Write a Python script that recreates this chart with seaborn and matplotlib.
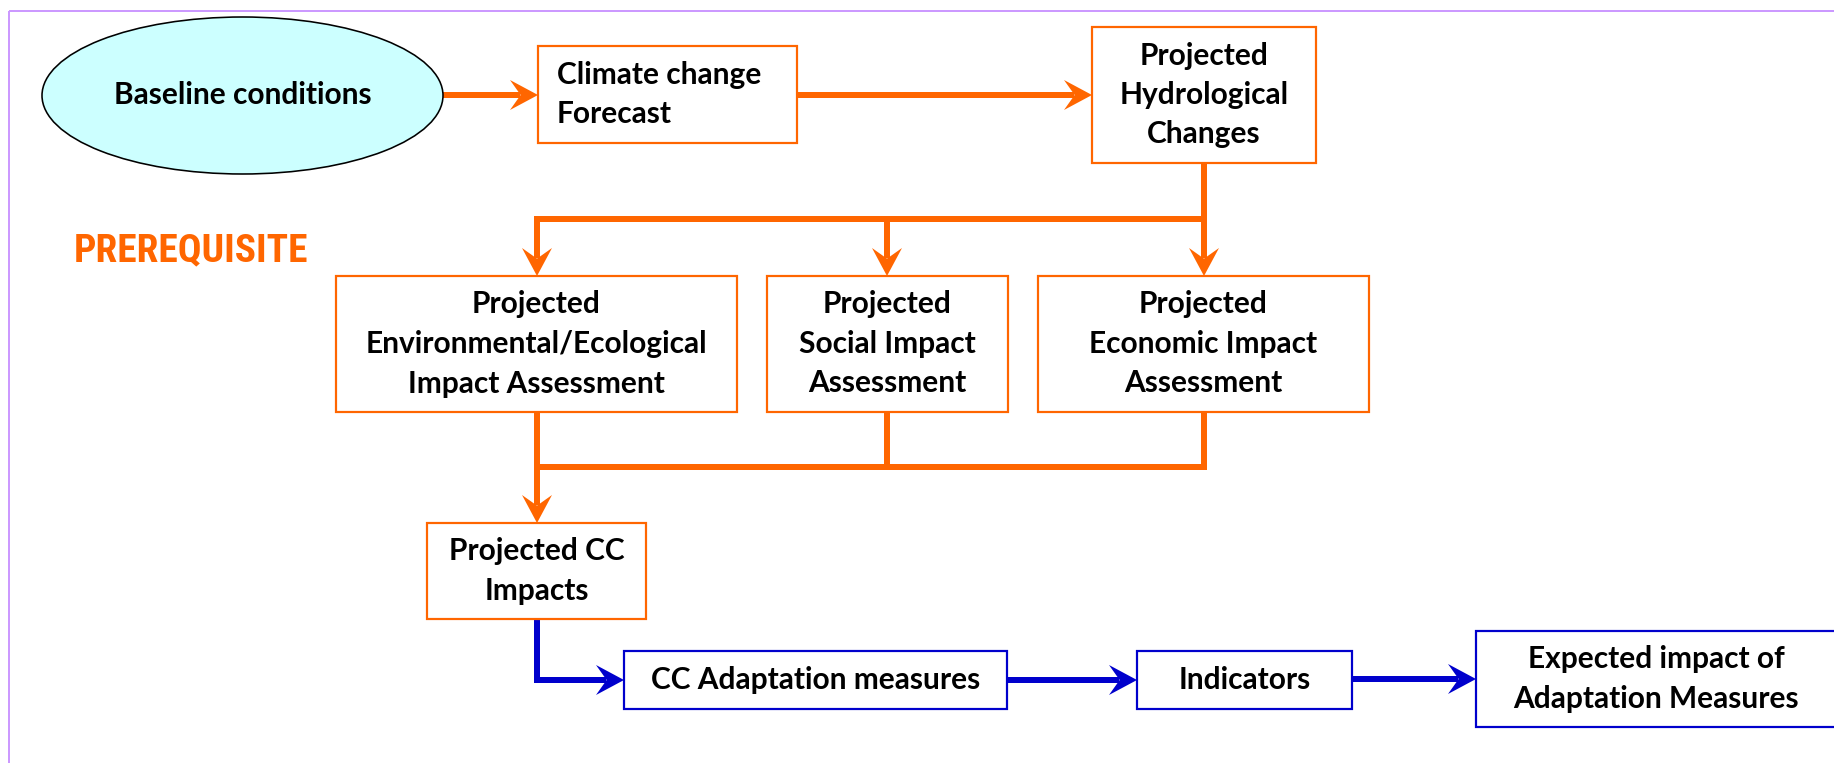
import numpy as np
import matplotlib
matplotlib.use("Agg")
import matplotlib.pyplot as plt
from matplotlib.patches import Rectangle, Ellipse
from matplotlib import font_manager
import seaborn as sns

sns.set_theme(style="white")
plt.rcParams['font.family'] = ['Lato', 'DejaVu Sans']

# ---- diagram data (pixel layout of the flowchart) ----
ORANGE = "#FF6600"
BLUE = "#0000CC"

node_names = ["baseline", "climate", "hydro", "env", "social", "econ",
              "ccimp", "adapt", "indic", "expect"]
node_labels = [
    ["Baseline conditions"],
    ["Climate change", "Forecast"],
    ["Projected", "Hydrological", "Changes"],
    ["Projected", "Environmental/Ecological", "Impact Assessment"],
    ["Projected", "Social Impact", "Assessment"],
    ["Projected", "Economic Impact", "Assessment"],
    ["Projected CC", "Impacts"],
    ["CC Adaptation measures"],
    ["Indicators"],
    ["Expected impact of", "Adaptation Measures"],
]
node_x0 = [42, 538, 1092, 336, 767, 1038, 427, 624, 1137, 1476]
node_x1 = [443, 797, 1316, 737, 1008, 1369, 646, 1007, 1352, 1836]
node_y0 = [17, 46, 27, 276, 276, 276, 523, 651, 651, 631]
node_y1 = [174, 143, 163, 412, 412, 412, 619, 709, 709, 727]
node_colors = ["black", ORANGE, ORANGE, ORANGE, ORANGE, ORANGE, ORANGE, BLUE, BLUE, BLUE]
node_align = ["center", "left", "center", "center", "center", "center",
              "center", "center", "center", "center"]

# connectors: polylines (x list, y list, colour, arrow at end?)
conn_x = [[443, 538], [797, 1092], [1204, 1204], [537, 1204], [537, 537], [887, 887],
          [537, 537], [887, 887], [1204, 1204], [537, 1204], [537, 537],
          [537, 537, 624], [1007, 1137], [1352, 1476]]
conn_y = [[95, 95], [95, 95], [163, 276], [219, 219], [219, 276], [219, 276],
          [412, 467], [412, 467], [412, 467], [467, 467], [467, 523],
          [619, 680, 680], [680, 680], [679, 679]]
conn_color = [ORANGE] * 11 + [BLUE] * 3
conn_arrow = [True, True, True, False, True, True,
              False, False, False, False, True,
              True, True, True]

title_text = "PREREQUISITE"
title_x0 = 74
title_y = 251
title_width = 209

W, H = 1834, 763
fig = plt.figure(figsize=(W / 100, H / 100), dpi=100)
ax = fig.add_axes([0, 0, 1, 1])
ax.set_xlim(0, W)
ax.set_ylim(H, 0)
ax.axis("off")

PX = 72 / 100.0  # points per pixel

# outer lavender frame (extends beyond right / bottom edges)
ax.add_patch(Rectangle((9, 11), W + 20, H + 20, fill=False, edgecolor="#CC99FF",
                       linewidth=2 * PX, zorder=1))

LINE_SP = 39.5
FS = 21.5

for i, name in enumerate(node_names):
    x0, x1, y0, y1 = node_x0[i], node_x1[i], node_y0[i], node_y1[i]
    cx, cy = (x0 + x1) / 2, (y0 + y1) / 2
    if name == "baseline":
        ax.add_patch(Ellipse((cx, cy), x1 - x0, y1 - y0, facecolor="#CCFFFF",
                             edgecolor="black", linewidth=1.6 * PX, zorder=3))
    else:
        ax.add_patch(Rectangle((x0, y0), x1 - x0, y1 - y0, facecolor="white",
                               edgecolor=node_colors[i], linewidth=2.2 * PX, zorder=3))
    lines = node_labels[i]
    n = len(lines)
    for k, t in enumerate(lines):
        ty = cy + (k - (n - 1) / 2) * LINE_SP
        if node_align[i] == "left":
            ax.text(x0 + 19, ty, t, ha="left", va="center", fontsize=FS,
                    fontweight="bold", color="black", zorder=5)
        else:
            ax.text(cx, ty, t, ha="center", va="center", fontsize=FS,
                    fontweight="bold", color="black", zorder=5)

# connectors with stealth arrowheads
AL, AW, NOTCH = 28, 15, 0.62
for xs, ys, col, arr in zip(conn_x, conn_y, conn_color, conn_arrow):
    xs = np.array(xs, float)
    ys = np.array(ys, float)
    if arr:
        d = np.array([xs[-1] - xs[-2], ys[-1] - ys[-2]])
        d = d / np.hypot(*d)
        nrm = np.array([-d[1], d[0]])
        tip = np.array([xs[-1], ys[-1]])
        back = tip - d * AL
        notch = tip - d * AL * NOTCH
        poly = np.array([tip, back + nrm * AW, notch, back - nrm * AW])
        xs_l = xs.copy(); ys_l = ys.copy()
        xs_l[-1], ys_l[-1] = notch[0] - d[0] * 1, notch[1] - d[1] * 1
        ax.plot(xs_l, ys_l, color=col, linewidth=6 * PX, solid_capstyle="butt",
                solid_joinstyle="miter", zorder=2)
        ax.fill(poly[:, 0], poly[:, 1], color=col, zorder=4, linewidth=0)
    else:
        ax.plot(xs, ys, color=col, linewidth=6 * PX, solid_capstyle="projecting",
                solid_joinstyle="miter", zorder=2)

# PREREQUISITE label: pick a narrow heavy face if one is installed
installed = {f.name for f in font_manager.fontManager.ttflist}
narrow_cands = ["Roboto Condensed", "Liberation Sans Narrow", "Open Sans Condensed",
                "Noto Sans Condensed", "DejaVu Sans Condensed", "Roboto", "DejaVu Sans"]
narrow = [c for c in narrow_cands if c in installed] or ["DejaVu Sans"]
is_narrow = narrow[0] not in ("Roboto", "DejaVu Sans")
target_w = title_width * 1.12 if is_narrow else title_width * 1.22
ttl = ax.text(title_x0, title_y, title_text, ha="left", va="center",
              fontsize=30, fontweight="heavy", fontstretch="condensed", color=ORANGE,
              family=narrow[:1] + ["DejaVu Sans"], zorder=5)
fig.canvas.draw()
bb = ttl.get_window_extent(renderer=fig.canvas.get_renderer())
ttl.set_fontsize(30 * target_w / bb.width)

fig.savefig("out.png", dpi=100)
